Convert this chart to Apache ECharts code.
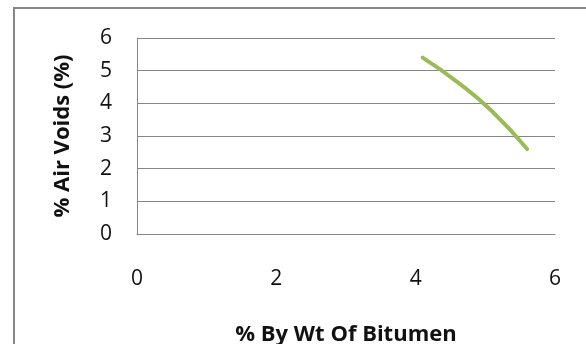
<!DOCTYPE html>
<html>
<head>
<meta charset="utf-8">
<script src="https://cdn.jsdelivr.net/npm/echarts@6/dist/echarts.min.js"></script>
<style>html,body{margin:0;padding:0;background:#fff;}#c{width:586px;height:344px;}</style>
</head>
<body>
<div id="c"></div>
<script>
var bitumen = [4.1, 4.6, 5.1, 5.6];
var airVoids = [5.4, 4.65, 3.75, 2.6];
var xTicks = [0, 2, 4, 6];
var yTicks = [0, 1, 2, 3, 4, 5, 6];

var chart = echarts.init(document.getElementById('c'));
var font = '"Open Sans", sans-serif';
chart.setOption({
  animation: false,
  graphic: [{
    type: 'rect',
    shape: {x: 14, y: 8, width: 700, height: 500},
    style: {fill: 'none', stroke: '#878787', lineWidth: 2},
    silent: true
  }],
  grid: {left: 137, right: 31, top: 38, bottom: 110, containLabel: false, outerBoundsMode: 'none'},
  xAxis: {
    type: 'value', min: xTicks[0], max: xTicks[xTicks.length - 1], interval: 2,
    name: '% By Wt Of Bitumen', nameLocation: 'middle', nameGap: 90,
    nameTextStyle: {fontFamily: font, fontSize: 22, fontWeight: 'bold', color: '#111'},
    axisLine: {show: true, lineStyle: {color: '#868686', width: 1}},
    axisTick: {show: false},
    splitLine: {show: false},
    axisLabel: {fontFamily: font, fontSize: 21, color: '#111', margin: 35}
  },
  yAxis: {
    type: 'value', min: yTicks[0], max: yTicks[yTicks.length - 1], interval: 1,
    name: '% Air Voids (%)', nameLocation: 'middle', nameGap: 63,
    nameTextStyle: {fontFamily: font, fontSize: 22, fontWeight: 'bold', color: '#111'},
    axisLine: {show: true, lineStyle: {color: '#868686', width: 1}},
    axisTick: {show: false},
    splitLine: {show: true, lineStyle: {color: '#868686', width: 1}},
    axisLabel: {fontFamily: font, fontSize: 21, color: '#111', margin: 25}
  },
  series: [{
    type: 'line',
    data: bitumen.map(function (b, i) { return [b, airVoids[i]]; }),
    smooth: true,
    showSymbol: false,
    lineStyle: {color: '#9BBB59', width: 4, cap: 'round'}
  }]
});
</script>
</body>
</html>
